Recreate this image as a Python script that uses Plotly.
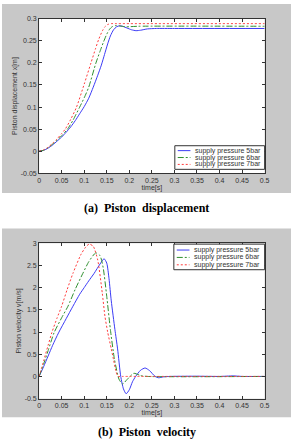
import plotly.graph_objects as go

# ---------------- data ----------------
series_names = ["supply pressure 5bar", "supply pressure 6bar", "supply pressure 7bar"]

# displacement [m]
t_disp_5 = [0, 0.01, 0.02, 0.03, 0.04, 0.05, 0.06, 0.07, 0.08, 0.09, 0.1, 0.11, 0.12, 0.13, 0.138,
            0.145, 0.152, 0.158, 0.165, 0.172, 0.178, 0.185, 0.195, 0.205, 0.215, 0.225, 0.24, 0.26, 0.3, 0.5]
disp_5 = [0, 0.002, 0.007, 0.014, 0.023, 0.032, 0.043, 0.055, 0.069, 0.085, 0.101, 0.12, 0.145, 0.172, 0.195,
          0.219, 0.243, 0.261, 0.275, 0.282, 0.284, 0.283, 0.279, 0.275, 0.273, 0.274, 0.277, 0.278, 0.278, 0.278]

t_disp_6 = [0, 0.01, 0.02, 0.03, 0.04, 0.05, 0.063, 0.075, 0.09, 0.1, 0.11, 0.126, 0.135, 0.143, 0.15,
            0.156, 0.162, 0.17, 0.18, 0.19, 0.2, 0.22, 0.5]
disp_6 = [0, 0.002, 0.008, 0.016, 0.025, 0.035, 0.05, 0.07, 0.1, 0.121, 0.145, 0.2, 0.226, 0.248, 0.265,
          0.276, 0.282, 0.2845, 0.2835, 0.282, 0.282, 0.283, 0.283]

t_disp_7 = [0, 0.01, 0.02, 0.03, 0.04, 0.05, 0.058, 0.07, 0.083, 0.1, 0.115, 0.125, 0.132, 0.14, 0.146,
            0.152, 0.16, 0.17, 0.5]
disp_7 = [0, 0.003, 0.009, 0.018, 0.028, 0.04, 0.05, 0.072, 0.1, 0.152, 0.2, 0.232, 0.253, 0.272, 0.282,
          0.287, 0.289, 0.289, 0.289]

# velocity [m/s]
t_vel_5 = [0, 0.01, 0.02, 0.03, 0.043, 0.06, 0.075, 0.09, 0.1, 0.11, 0.122, 0.135, 0.144, 0.15, 0.155,
           0.16, 0.168, 0.174, 0.181, 0.187, 0.193, 0.2, 0.207, 0.214, 0.225, 0.235, 0.245, 0.257, 0.265,
           0.275, 0.29, 0.35, 0.4, 0.43, 0.45, 0.5]
vel_5 = [0, 0.22, 0.46, 0.7, 0.98, 1.3, 1.58, 1.85, 2.0, 2.15, 2.32, 2.53, 2.65, 2.55, 2.2,
         1.7, 1.06, 0.62, 0.0, -0.28, -0.39, -0.3, -0.12, 0.0, 0.14, 0.19, 0.13, 0.0, -0.03,
         -0.01, 0.0, 0.005, 0.0, 0.012, 0.0, 0.0]

t_vel_6 = [0, 0.01, 0.02, 0.033, 0.05, 0.064, 0.08, 0.097, 0.11, 0.1255, 0.135, 0.142, 0.15, 0.158,
           0.167, 0.177, 0.185, 0.195, 0.21, 0.225, 0.24, 0.5]
vel_6 = [0, 0.28, 0.58, 0.98, 1.32, 1.58, 1.96, 2.32, 2.58, 2.78, 2.72, 2.45, 1.8, 1.06,
         0.39, -0.06, -0.17, -0.07, 0.07, 0.02, 0.0, 0.0]

t_vel_7 = [0, 0.01, 0.02, 0.028, 0.04, 0.05, 0.062, 0.075, 0.093, 0.104, 0.111, 0.12, 0.13, 0.14,
           0.146, 0.152, 0.16, 0.165, 0.17, 0.175, 0.185, 0.5]
vel_7 = [0, 0.35, 0.7, 0.98, 1.32, 1.58, 1.95, 2.32, 2.75, 2.92, 2.98, 2.93, 2.62, 1.88,
         1.35, 1.0, 0.62, 0.38, 0.13, 0.0, 0.0, 0.0]

x_ticks = [0, 0.05, 0.1, 0.15, 0.2, 0.25, 0.3, 0.35, 0.4, 0.45, 0.5]
x_tick_text = ["0", "0.05", "0.1", "0.15", "0.2", "0.25", "0.3", "0.35", "0.4", "0.45", "0.5"]
y1_ticks = [-0.05, 0, 0.05, 0.1, 0.15, 0.2, 0.25, 0.3]
y1_tick_text = ["-0.05", "0", "0.05", "0.1", "0.15", "0.2", "0.25", "0.3"]
y2_ticks = [-0.5, 0, 0.5, 1, 1.5, 2, 2.5, 3]
y2_tick_text = ["-0.5", "0", "0.5", "1", "1.5", "2", "2.5", "3"]

captions = ["(a)\u00a0 Piston\u00a0 displacement", "(b)\u00a0 Piston\u00a0 velocity"]

# ---------------- style ----------------
W, H = 296, 442
colors = ["#3c3cf5", "#2f8f2f", "#ff3b3b"]
dashes = ["solid", "6px,2px,2px,2px", "2px,2px"]
GRAY = "#c8c8c8"
FONT = "Liberation Sans, Arial, sans-serif"


def px(x):
    return x / W


def py(y):
    return 1 - y / H


fig = go.Figure()

disp_data = [(t_disp_5, disp_5), (t_disp_6, disp_6), (t_disp_7, disp_7)]
vel_data = [(t_vel_5, vel_5), (t_vel_6, vel_6), (t_vel_7, vel_7)]

for i, (t, v) in enumerate(disp_data):
    fig.add_trace(go.Scatter(x=t, y=v, mode="lines", name=series_names[i], showlegend=False,
                             line=dict(color=colors[i], width=1, dash=dashes[i], shape="spline", smoothing=0.6),
                             xaxis="x", yaxis="y"))
for i, (t, v) in enumerate(vel_data):
    fig.add_trace(go.Scatter(x=t, y=v, mode="lines", name=series_names[i], showlegend=False,
                             line=dict(color=colors[i], width=1, dash=dashes[i], shape="spline", smoothing=0.6),
                             xaxis="x2", yaxis="y2"))

# plot areas (px)
top_area = (38, 15, 269, 172)
bot_area = (38, 243, 269, 401)

axis_common = dict(ticks="inside", ticklen=3, tickwidth=1, tickcolor="#333", showline=True,
                   linecolor="#333", linewidth=1, mirror="allticks", showgrid=False, zeroline=False,
                   tickfont=dict(family=FONT, size=7, color="#333"))

fig.update_layout(
    width=W, height=H, margin=dict(l=0, r=0, t=0, b=0),
    paper_bgcolor="white", plot_bgcolor="white", showlegend=False,
    xaxis=dict(domain=[px(top_area[0]), px(top_area[2])], range=[0, 0.5], anchor="y",
               tickvals=x_ticks, ticktext=x_tick_text,
               title=dict(text="time[s]", font=dict(family=FONT, size=7, color="#333"), standoff=1),
               **axis_common),
    yaxis=dict(domain=[py(top_area[3]), py(top_area[1])], range=[-0.05, 0.3], anchor="x",
               tickvals=y1_ticks, ticktext=y1_tick_text,
               title=dict(text="Piston displacement x[m]", font=dict(family=FONT, size=7, color="#333"), standoff=2),
               **axis_common),
    xaxis2=dict(domain=[px(bot_area[0]), px(bot_area[2])], range=[0, 0.5], anchor="y2",
                tickvals=x_ticks, ticktext=x_tick_text,
                title=dict(text="time[s]", font=dict(family=FONT, size=7, color="#333"), standoff=1),
                **axis_common),
    yaxis2=dict(domain=[py(bot_area[3]), py(bot_area[1])], range=[-0.5, 3], anchor="x2",
                tickvals=y2_ticks, ticktext=y2_tick_text,
                title=dict(text="Piston velocity v[m/s]", font=dict(family=FONT, size=7, color="#333"), standoff=2),
                **axis_common),
)

shapes = []
# gray figure backgrounds
for (y0, y1) in [(0, 192), (228, 420)]:
    shapes.append(dict(type="rect", xref="paper", yref="paper", x0=0, x1=1, y0=py(y1), y1=py(y0),
                       fillcolor=GRAY, line=dict(width=0), layer="below"))
# white plot areas
for a in [top_area, bot_area]:
    shapes.append(dict(type="rect", xref="paper", yref="paper", x0=px(a[0]), x1=px(a[2]), y0=py(a[3]), y1=py(a[1]),
                       fillcolor="white", line=dict(width=0), layer="below"))

annotations = []
# legends (box, sample lines, labels)
legend_boxes = [((177, 144, 269, 168), [149, 156, 163]), ((176, 244, 269, 270), [250, 257.5, 265])]
for (box, rows) in legend_boxes:
    shapes.append(dict(type="rect", xref="paper", yref="paper", x0=px(box[0]), x1=px(box[2]),
                       y0=py(box[3]), y1=py(box[1]), fillcolor="white", line=dict(color="#333", width=1),
                       layer="above"))
    for i, ry in enumerate(rows):
        shapes.append(dict(type="line", xref="paper", yref="paper", x0=px(box[0] + 3), x1=px(box[0] + 16),
                           y0=py(ry), y1=py(ry), line=dict(color=colors[i], width=1, dash=dashes[i]),
                           layer="above"))
        annotations.append(dict(xref="paper", yref="paper", x=px(box[0] + 19), y=py(ry), text=series_names[i],
                                showarrow=False, xanchor="left", yanchor="middle",
                                font=dict(family=FONT, size=7, color="#333")))

# captions
for cap, cy in zip(captions, [207, 435]):
    annotations.append(dict(xref="paper", yref="paper", x=0.5, y=py(cy), text="<b>" + cap + "</b>",
                            showarrow=False, xanchor="center", yanchor="middle",
                            font=dict(family="Liberation Serif, Times New Roman, serif", size=12, color="black")))

fig.update_layout(shapes=shapes, annotations=annotations)

fig.write_html("out.html")
